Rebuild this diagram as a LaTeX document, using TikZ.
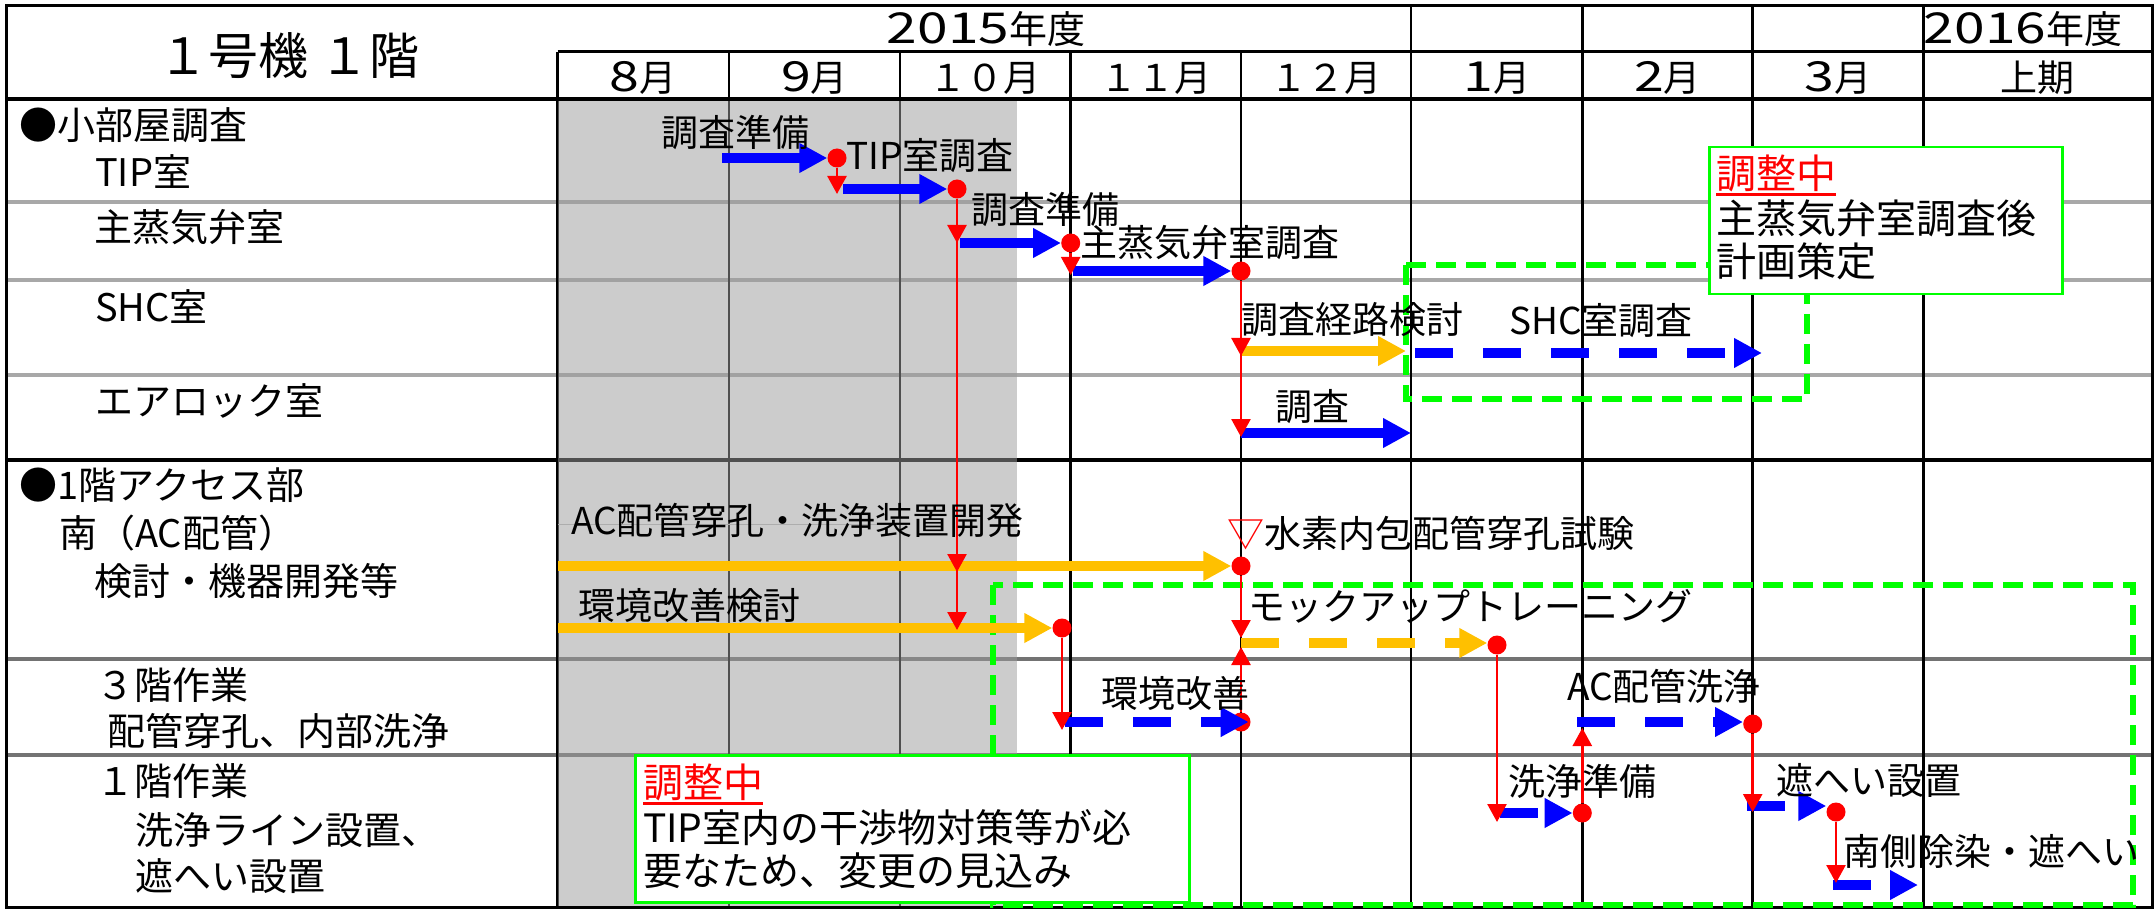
\documentclass[tikz,border=0pt]{standalone}
\usepackage{fontspec}
\setmainfont{Noto Sans CJK JP}
\usetikzlibrary{arrows.meta}
\definecolor{cblue}{HTML}{0000FF}
\definecolor{corange}{HTML}{FFC000}
\definecolor{cred}{HTML}{FF0000}
\definecolor{cgreen}{HTML}{00FF00}
\definecolor{shadecol}{HTML}{9C9C9C}
\definecolor{rowlight}{HTML}{A8A8A8}
\definecolor{rowdark}{HTML}{737373}
\newcommand\wdg[1]{\scalebox{1.45}[1.12]{#1}}
\begin{document}
\begin{tikzpicture}[x=1pt,y=-1pt,
  gridline/.style={line width=2.7pt},
  bar/.style={line width=10pt,-{Triangle[width=28pt,length=28pt]}},
  dashbar/.style={bar,dash pattern=on 38pt off 30pt},
  conn/.style={cred,line width=2.6pt,-{Triangle[width=19pt,length=18pt]}},
  dot/.style={circle,fill=cred,inner sep=0pt,minimum size=19pt},
  lbl/.style={anchor=base west,inner sep=0pt,font={\fontsize{37}{40}\selectfont}},
  rowlbl/.style={anchor=base west,inner sep=0pt,font={\fontsize{38}{40}\selectfont}},
  hdr/.style={anchor=base,inner sep=0pt,font={\fontsize{37}{40}\selectfont}},
  yhdr/.style={anchor=base,inner sep=0pt,font={\fontsize{38}{40}\selectfont}},
  notebox/.style={draw=cgreen,line width=2.5pt,fill=white,inner sep=0pt,anchor=north west},
  notetxt/.style={anchor=base west,inner sep=0pt,font={\fontsize{40}{44}\selectfont}},
  notetxtb/.style={anchor=base west,inner sep=0pt,font={\fontsize{39}{44}\selectfont}},
  uline/.style={cred,line width=3pt},
  zone/.style={cgreen,line width=6pt,dash pattern=on 20pt off 10pt}]
\useasboundingbox (0,0) rectangle (2156,909);
\fill[white] (0,0) rectangle (2156,909);

% ---------- grid ----------
\draw[rowlight,line width=3.5pt] (6,202) -- (2152,202) (6,280) -- (2152,280) (6,375) -- (2152,375);
\draw[rowdark,line width=4pt] (6,659) -- (2152,659) (6,755) -- (2152,755);
\draw[line width=3.5pt] (6,460) -- (2152,460);
\draw[line width=3.5pt] (6,99) -- (2152,99);
\draw[line width=3pt] (557.5,52) -- (2152,52);
\draw[line width=3pt] (557.5,52) -- (557.5,907);
\foreach \x in {729,900,1070.7,1241} \draw[gridline] (\x,52) -- (\x,907);
\foreach \x in {1411,1582.3,1752.7,1923.3} \draw[gridline] (\x,6) -- (\x,907);
\draw[line width=3pt] (6,6) rectangle (2152,907);

% ---------- past-period shading ----------
\fill[shadecol,fill opacity=0.51] (557.5,100.8) rectangle (1017,905.5);
\draw[black!32,line width=1pt] (558,524) -- (900,524);

% ---------- adjustment zones ----------
\draw[zone] (1406,265) rectangle (1807,399);
\draw[zone] (993,585) rectangle (2133,905);

% ---------- milestones ----------
\node[dot] (d1) at (837,158) {};
\node[dot] (d2) at (957,189) {};
\node[dot] (d3) at (1070.7,243) {};
\node[dot] (d4) at (1241,271) {};
\node[dot] (d5) at (1241,566) {};
\node[dot] (d6) at (1062,628) {};
\node[dot] (d7) at (1241,722) {};
\node[dot] (d8) at (1497,645) {};
\node[dot] (d9) at (1582.3,813) {};
\node[dot] (d10) at (1752.7,724) {};
\node[dot] (d11) at (1836,812) {};

% ---------- bars ----------
\coordinate (sB1) at (722,158);
\coordinate (sB2) at (843,189);
\coordinate (sB3) at (960,243);
\coordinate (sB4) at (1073,271);
\coordinate (sO1) at (1242,351);  \coordinate (eO1) at (1406,351);
\coordinate (sD1) at (1415,353);  \coordinate (eD1) at (1762,353);
\coordinate (sB5) at (1241,433);  \coordinate (eB5) at (1411,433);
\coordinate (sO2) at (558,566);
\coordinate (sO3) at (558,628);
\coordinate (sD2) at (1065,722);
\coordinate (sOD) at (1241,643);
\coordinate (sD3) at (1500,813);
\coordinate (sD4) at (1577,722);
\coordinate (sD5) at (1747,806);
\coordinate (sD6) at (1833,885);  \coordinate (eD6) at (1918,885);

\draw[bar,cblue] (sB1) -- (sB1 -| d1.west);
\draw[bar,cblue] (sB2) -- (sB2 -| d2.west);
\draw[bar,cblue] (sB3) -- (sB3 -| d3.west);
\draw[bar,cblue] (sB4) -- (sB4 -| d4.west);
\draw[bar,corange] (sO1) -- (eO1);
\draw[dashbar,cblue] (sD1) -- (eD1);
\draw[bar,cblue] (sB5) -- (eB5);
\draw[bar,corange] (sO2) -- (sO2 -| d5.west);
\draw[bar,corange] (sO3) -- (sO3 -| d6.west);
\draw[dashbar,cblue] (sD2) -- ([xshift=-2pt]sD2 -| d7.east);
\draw[dashbar,corange] (sOD) -- (sOD -| d8.west);
\draw[dashbar,cblue] (sD3) -- (sD3 -| d9.west);
\draw[dashbar,cblue] (sD4) -- (sD4 -| d10.west);
\draw[dashbar,cblue] (sD5) -- (sD5 -| d11.west);
\draw[dashbar,cblue] (sD6) -- (eD6);

% ---------- dependencies ----------
\draw[conn] (d1) -- ++(0,36);
\draw[conn] (d2) -- ++(0,54);
\draw[conn] (d2) -- ++(0,383);
\draw[conn] (d2) -- ++(0,441);
\draw[conn] (d3) -- ++(0,32);
\draw[conn] (d4) -- ++(0,85);
\draw[conn] (d4) -- ++(0,166);
\draw[conn] (d5) -- ++(0,72);
\draw[conn] (d7) -- ++(0,-75);
\draw[conn] (d6) -- ++(0,102);
\draw[conn] (d8) -- ++(0,177);
\draw[conn] (d9) -- ++(0,-85);
\draw[conn] (d10) -- ++(0,88);
\draw[conn] (d11) -- ++(0,71);

% ---------- bar labels ----------
\node[lbl] (l1) at (661,147) {調査準備};
\node[lbl] (l2) at (846,170) {TIP室調査};
\node[lbl] (l3) at (971,224) {調査準備};
\node[lbl] (l4) at (1080,257) {主蒸気弁室調査};
\node[lbl] (l5) at (1241,334) {調査経路検討};
\node[lbl] (l6) at (1509,335) {SHC室調査};
\node[lbl] (l7) at (1275,420) {調査};
\node[lbl] (l8) at (571,534) {AC配管穿孔・洗浄装置開発};
\node[lbl] (l9) at (578,619) {環境改善検討};
\node[lbl] (l10) at (1227,547) {\textcolor{cred}{▽}水素内包配管穿孔試験};
\node[lbl] (l11) at (1248,620) {モックアップトレーニング};
\node[lbl] (l12) at (1101,707) {環境改善};
\node[lbl] (l13) at (1567,700) {AC配管洗浄};
\node[lbl] (l14) at (1508,795) {洗浄準備};
\node[lbl] (l15) at (1776,794) {遮へい設置};
\node[lbl] (l16) at (1843,865) {南側除染・遮へい};

% ---------- notes ----------
\node[notebox,minimum width=353pt,minimum height=147pt] (note1) at (1708,146) {};
\node[notetxt,text=cred] (n1a) at (1716,189) {調整中};
\draw[uline] ([yshift=-6pt]n1a.base west) -- ([yshift=-6pt]n1a.base east);
\node[notetxt] (n1b) at (1716,234) {主蒸気弁室調査後};
\node[notetxt] (n1c) at (1716,277) {計画策定};

\node[notebox,minimum width=554pt,minimum height=147pt] (note2) at (634,754) {};
\node[notetxt,text=cred] (n2a) at (643,797) {調整中};
\draw[uline] ([yshift=-6pt]n2a.base west) -- ([yshift=-6pt]n2a.base east);
\node[notetxtb] (n2b) at (643,842) {TIP室内の干渉物対策等が必};
\node[notetxtb] (n2c) at (643,885) {要なため、変更の見込み};

% ---------- header ----------
\node[anchor=base,inner sep=0pt,font={\fontsize{50}{54}\selectfont}] (title) at (289,75) {１号機 １階};
\node[yhdr] (y2015) at (986,44) {\wdg{2015}年度};
\node[yhdr] (y2016) at (2023,44) {\wdg{2016}年度};
\node[hdr] (m8) at (643.3,92) {\wdg{8}月};
\node[hdr] (m9) at (814.5,92) {\wdg{9}月};
\node[hdr] (m10) at (985.4,92) {１０月};
\node[hdr] (m11) at (1155.9,92) {１１月};
\node[hdr] (m12) at (1326,92) {１２月};
\node[hdr] (m1) at (1496.7,92) {\wdg{1}月};
\node[hdr] (m2) at (1667.5,92) {\wdg{2}月};
\node[hdr] (m3) at (1838,92) {\wdg{3}月};
\node[hdr] (mh) at (2037.6,92) {上期};

% ---------- row labels ----------
\node[rowlbl] (r1) at (19,140) {●小部屋調査};
\node[rowlbl] (r2) at (95,187) {TIP室};
\node[rowlbl] (r3) at (94,242) {主蒸気弁室};
\node[rowlbl] (r4) at (95,322) {SHC室};
\node[rowlbl] (r5) at (95,415) {エアロック室};
\node[rowlbl] (r6) at (19,499) {●1階アクセス部};
\node[rowlbl] (r7) at (59,547) {南（AC配管）};
\node[rowlbl] (r8) at (94,595) {検討・機器開発等};
\node[rowlbl] (r9) at (96,699) {３階作業};
\node[rowlbl] (r10) at (107,745) {配管穿孔、内部洗浄};
\node[rowlbl] (r11) at (96,795) {１階作業};
\node[rowlbl] (r12) at (135,844) {洗浄ライン設置、};
\node[rowlbl] (r13) at (135,890) {遮へい設置};
\end{tikzpicture}
\end{document}
